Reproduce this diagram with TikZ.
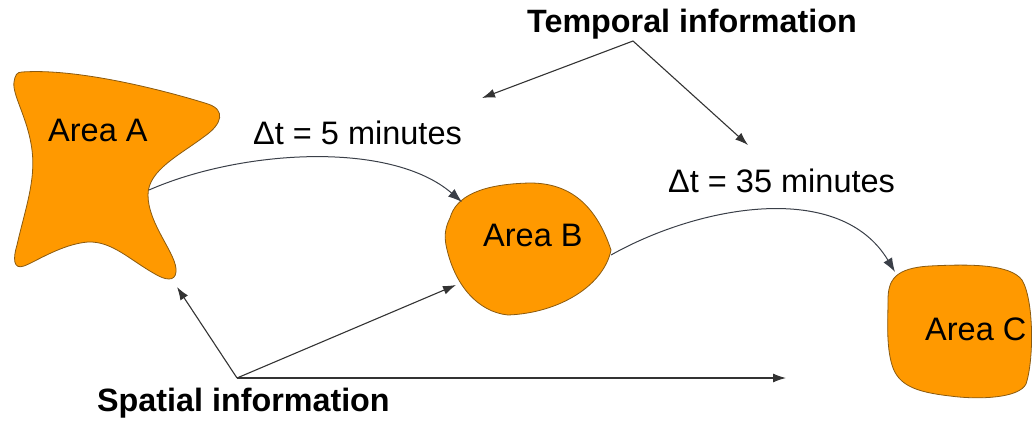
\documentclass[tikz,border=0pt]{standalone}
\usepackage{fontspec}
\setmainfont{Liberation Sans}
\usetikzlibrary{arrows.meta}
\definecolor{areaorange}{HTML}{FF9900}
\definecolor{areaedge}{HTML}{8A5A10}
\definecolor{linegray}{HTML}{333333}
\definecolor{curvegray}{HTML}{3A3F48}
\begin{document}
\begin{tikzpicture}[x=1pt,y=-1pt,
  area/.style={fill=areaorange, draw=areaedge, line width=0.8pt},
  lbl/.style={inner sep=0pt, anchor=base west, font=\fontsize{32.5}{38}\selectfont},
  blbl/.style={inner sep=0pt, anchor=base west, font=\fontsize{32.3}{38}\selectfont\bfseries},
  arr/.style={draw=linegray, line width=1.1pt, -{Latex[length=13pt,width=9pt]}},
  carr/.style={draw=curvegray, line width=1pt, -{Latex[length=14pt,width=10pt]}},
]
\useasboundingbox (0,0) rectangle (1035,420);

% Area A
\draw[area] (22,72) .. controls (80,68) and (170,92) .. (208,104)
  .. controls (226,110) and (222,124) .. (205,136)
  .. controls (180,155) and (148,170) .. (148,195)
  .. controls (148,225) and (178,255) .. (176,272)
  .. controls (175,282) and (165,280) .. (155,274)
  .. controls (130,260) and (112,241) .. (88,242)
  .. controls (62,244) and (35,262) .. (24,266)
  .. controls (13,270) and (13,258) .. (17,245)
  .. controls (25,210) and (36,180) .. (32,150)
  .. controls (28,118) and (12,95) .. (14,82)
  .. controls (15,75) and (17,72) .. cycle;
% Area B
\draw[area] (450,218) .. controls (456,196) and (482,184) .. (530,183)
  .. controls (570,183) and (596,205) .. (611,250)
  .. controls (604,285) and (560,313) .. (508,315)
  .. controls (478,312) and (454,285) .. (446,245)
  .. controls (444,234) and (446,226) .. cycle;
% Area C
\draw[area] (888,300) .. controls (888,280) and (895,268) .. (930,266)
  .. controls (970,264) and (1010,264) .. (1022,280)
  .. controls (1034,300) and (1034,360) .. (1026,384)
  .. controls (1019,398) and (980,400) .. (950,396)
  .. controls (915,392) and (898,385) .. (892,365)
  .. controls (886,345) and (888,320) .. cycle;

% Labels
\node[lbl] (la) at (48,141) {Area A};
\node[lbl] (lb) at (483,246) {Area B};
\node[lbl] (lc) at (925,340) {Area C};
\node[lbl] (d5) at (253,144) {Δt = 5 minutes};
\node[lbl] (d35) at (668,192) {Δt = 35 minutes};
\node[blbl] (temp) at (527,33) {Temporal information};
\node[blbl] (spat) at (97,411) {Spatial information};

% Connector anchor points
\coordinate (aout) at (149,190);
\coordinate (bin) at (462,202);
\coordinate (bout) at (611,255);
\coordinate (cin) at (895,272);
\coordinate (tapex) at (633,41);
\coordinate (ttl) at (482,98);
\coordinate (ttr) at (748,145);
\coordinate (sapex) at (237,378);
\coordinate (sa) at (177,287);
\coordinate (sb) at (456,285);
\coordinate (sr) at (786,378);

% Movement curves
\draw[carr] (aout) .. controls (240,150) and (390,140) .. (bin);
\draw[carr] (bout) .. controls (700,205) and (840,180) .. (cin);

% Temporal information arrows
\draw[arr] (tapex) -- (ttl);
\draw[arr] (tapex) -- (ttr);

% Spatial information arrows
\draw[arr] (sapex) -- (sa);
\draw[arr] (sapex) -- (sb);
\draw[arr] (sapex) -- (sr);
\end{tikzpicture}
\end{document}
